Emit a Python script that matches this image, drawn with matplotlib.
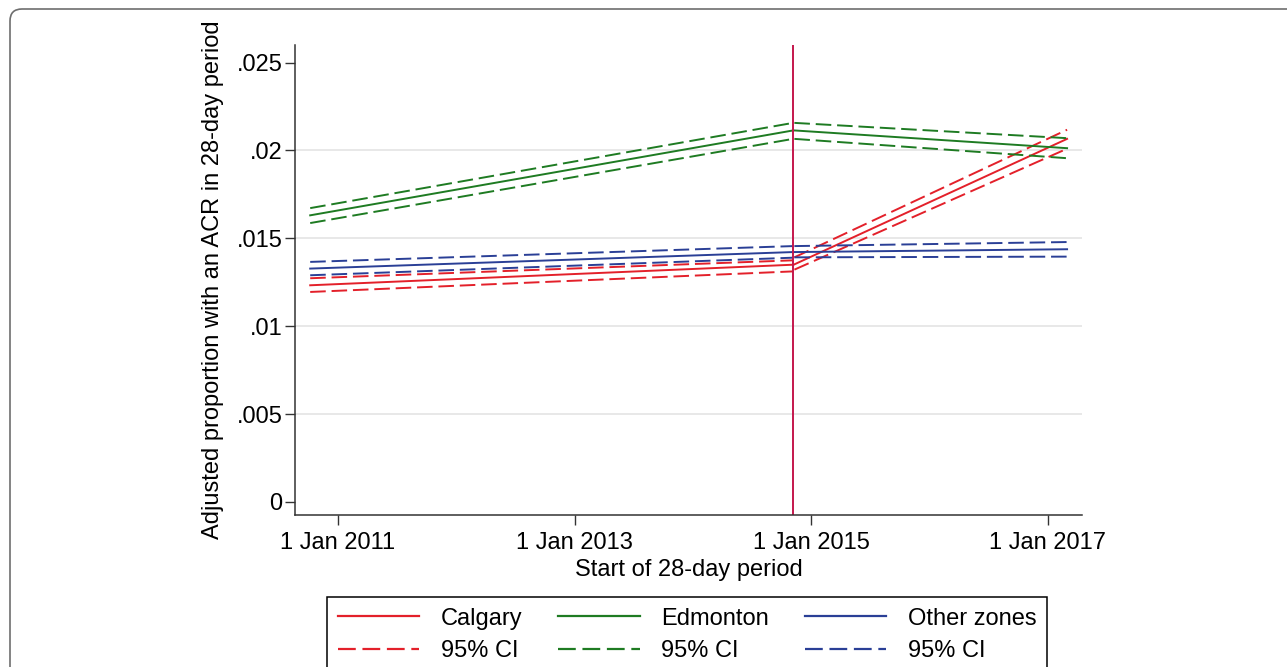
import matplotlib
matplotlib.use("Agg")
import matplotlib.pyplot as plt
from matplotlib.patches import FancyBboxPatch
from matplotlib.lines import Line2D
from matplotlib.transforms import IdentityTransform
import numpy as np

plt.rcParams['font.family'] = ['Liberation Sans', 'DejaVu Sans']

# start, last pre-intervention period, first post-intervention period, end
dates = np.array(['2010-10-07', '2014-11-06', '2014-11-10', '2017-03-01'], dtype='datetime64[D]')
break_date = np.datetime64('2014-11-06')

calgary = [0.01233, 0.01350, 0.01352, 0.02066]
calgary_lo = [0.01195, 0.01312, 0.01322, 0.02010]
calgary_hi = [0.01273, 0.01375, 0.01392, 0.02118]

edmonton = [0.01631, 0.02114, 0.02114, 0.02013]
edmonton_lo = [0.01587, 0.02066, 0.02066, 0.01956]
edmonton_hi = [0.01672, 0.02157, 0.02157, 0.02070]

other = [0.01328, 0.01422, 0.01422, 0.01438]
other_lo = [0.01290, 0.01390, 0.01392, 0.01396]
other_hi = [0.01366, 0.01456, 0.01456, 0.01479]

yticks = [0, 0.005, 0.01, 0.015, 0.02, 0.025]
ytick_labels = ['0', '.005', '.01', '.015', '.02', '.025']
xticks = np.array(['2011-01-01', '2013-01-01', '2015-01-01', '2017-01-01'], dtype='datetime64[D]')
xtick_labels = ['1 Jan 2011', '1 Jan 2013', '1 Jan 2015', '1 Jan 2017']

red = '#e3202a'
green = '#1e7b22'
blue = '#2a3f96'
dash = (0, (8, 3))


def to_dt(d):
    return np.asarray(d).astype('datetime64[ms]').astype(object)


fig = plt.figure(figsize=(12.87, 6.67), dpi=100)
ax = fig.add_axes([0.2292, 0.2279, 0.6115, 0.7046])

for g in yticks[1:-1]:
    ax.axhline(g, color='#e6e6e6', lw=1.3, zorder=0)

x = to_dt(dates)
pre = slice(0, 2)
post = slice(2, 4)
for mid, lo, hi, c in [(calgary, calgary_lo, calgary_hi, red),
                       (edmonton, edmonton_lo, edmonton_hi, green),
                       (other, other_lo, other_hi, blue)]:
    for s in (pre, post):
        ax.plot(x[s], mid[s], color=c, lw=1.4)
        ax.plot(x[s], lo[s], color=c, lw=1.4, ls=dash)
        ax.plot(x[s], hi[s], color=c, lw=1.4, ls=dash)

ax.axvline(to_dt(break_date), color='#c4174c', lw=1.4)

ax.set_xlim(to_dt(np.datetime64('2010-08-21')), to_dt(np.datetime64('2017-04-16')))
ax.set_ylim(-0.00074, 0.026)
ax.set_yticks(yticks)
ax.set_yticklabels(ytick_labels)
ax.set_xticks(to_dt(xticks))
ax.set_xticklabels(xtick_labels)
ax.tick_params(axis='both', labelsize=17, length=7, width=1, color='#333333')
ax.tick_params(axis='x', pad=5)
ax.tick_params(axis='y', pad=2)
for side in ('top', 'right'):
    ax.spines[side].set_visible(False)
for side in ('left', 'bottom'):
    ax.spines[side].set_color('#333333')
    ax.spines[side].set_linewidth(1.1)

ax.set_xlabel('Start of 28-day period', fontsize=17, labelpad=4)
ax.set_ylabel('Adjusted proportion with an ACR in 28-day period', fontsize=17, labelpad=9)

handles = [
    Line2D([], [], color=red, lw=1.6), Line2D([], [], color=red, lw=1.6, ls=dash),
    Line2D([], [], color=green, lw=1.6), Line2D([], [], color=green, lw=1.6, ls=dash),
    Line2D([], [], color=blue, lw=1.6), Line2D([], [], color=blue, lw=1.6, ls=dash),
]
labels = ['Calgary', '95% CI', 'Edmonton', '95% CI', 'Other zones', '95% CI']
leg = fig.legend(handles, labels, ncol=3, loc='upper left',
                 bbox_to_anchor=(327 / 1287, 1 - 597 / 667), fontsize=17,
                 handlelength=3.45, handletextpad=0.93, columnspacing=1.5,
                 borderpad=0.45, labelspacing=0.45, fancybox=False,
                 edgecolor='black', framealpha=1, borderaxespad=0)
leg.get_frame().set_linewidth(1.1)

border = FancyBboxPatch((10, -40), 1320, 698, boxstyle='round,pad=0,rounding_size=12',
                        transform=IdentityTransform(), facecolor='none',
                        edgecolor='#6e6e6e', lw=1.2)
fig.patches.append(border)

fig.savefig('out.png', dpi=100)
